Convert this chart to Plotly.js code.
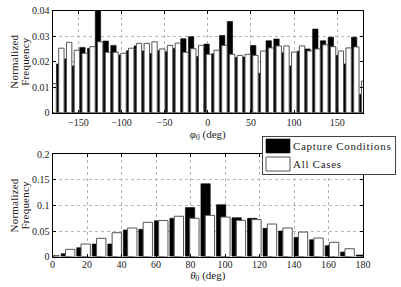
<!DOCTYPE html>
<html>
<head>
<meta charset="utf-8">
<script src="https://cdn.plot.ly/plotly-3.0.1.min.js"></script>
<style>
  html, body { margin: 0; padding: 0; background: #fff; }
  #chart { width: 401px; height: 287px; }
</style>
</head>
<body>
<div id="chart"></div>
<script>
// ---- Data ----
const phiCenters = [-180, -171, -162, -153, -144, -135, -126, -117, -108, -99,
  -90, -81, -72, -63, -54, -45, -36, -27, -18, -9,
  0, 9, 18, 27, 36, 45, 54, 63, 72, 81,
  90, 99, 108, 117, 126, 135, 144, 153, 162, 171, 180];
const phiCapture = [0.0070, 0.0191, 0.0211, 0.0183, 0.0256, 0.0252, 0.0405, 0.0281, 0.0264, 0.0226,
  0.0243, 0.0262, 0.0242, 0.0232, 0.0243, 0.0239, 0.0252, 0.0290, 0.0298, 0.0220,
  0.0269, 0.0231, 0.0303, 0.0358, 0.0216, 0.0218, 0.0264, 0.0155, 0.0282, 0.0289,
  0.0235, 0.0183, 0.0241, 0.0250, 0.0328, 0.0282, 0.0296, 0.0224, 0.0191, 0.0296, 0.0072];
const phiAll = [0.0114, 0.0253, 0.0276, 0.0245, 0.0233, 0.0259, 0.0278, 0.0237, 0.0237, 0.0233,
  0.0253, 0.0272, 0.0272, 0.0278, 0.0250, 0.0264, 0.0273, 0.0237, 0.0251, 0.0264,
  0.0229, 0.0245, 0.0264, 0.0229, 0.0225, 0.0229, 0.0225, 0.0242, 0.0254, 0.0262,
  0.0262, 0.0238, 0.0262, 0.0242, 0.0250, 0.0266, 0.0259, 0.0242, 0.0254, 0.0258, 0.0124];

const thetaCenters = [0, 9, 18, 27, 36, 45, 54, 63, 72, 81,
  90, 99, 108, 117, 126, 135, 144, 153, 162, 171, 180];
const thetaCapture = [0.0010, 0.0057, 0.0174, 0.0246, 0.0246, 0.0520, 0.0533, 0.0700, 0.0748, 0.0958,
  0.1424, 0.1014, 0.0760, 0.0748, 0.0552, 0.0500, 0.0377, 0.0330, 0.0213, 0.0090, 0.0030];
const thetaAll = [0.0020, 0.0142, 0.0246, 0.0357, 0.0467, 0.0559, 0.0670, 0.0705, 0.0789, 0.0750,
  0.0806, 0.0773, 0.0709, 0.0724, 0.0637, 0.0559, 0.0480, 0.0363, 0.0279, 0.0154, 0.0000];

const phiTicks = [-150, -100, -50, 0, 50, 100, 150];
const phiTickText = ['\u2212150', '\u2212100', '\u221250', '0', '50', '100', '150'];
const phiYTicks = [0, 0.01, 0.02, 0.03, 0.04];
const phiYTickText = ['0', '0.01', '0.02', '0.03', '0.04'];
const thetaTicks = [0, 20, 40, 60, 80, 100, 120, 140, 160, 180];
const thetaYTicks = [0, 0.05, 0.1, 0.15, 0.2];
const thetaYTickText = ['0', '0.05', '0.1', '0.15', '0.2'];

const seriesNames = ['Capture Conditions', 'All Cases'];

// ---- Styles ----
const FONT = 'Liberation Serif, Times New Roman, serif';
const TXT = '#222';
const blackBar = { color: '#000', line: { color: '#000', width: 0.6 } };
const whiteBar = { color: '#fff', line: { color: '#555', width: 1 } };

const traces = [
  { type: 'bar', x: phiCenters, y: phiCapture, name: seriesNames[0], xaxis: 'x', yaxis: 'y',
    width: 6.2, offset: -4.4, marker: blackBar, legendgroup: 'a' },
  { type: 'bar', x: phiCenters, y: phiAll, name: seriesNames[1], xaxis: 'x', yaxis: 'y',
    width: 6.2, offset: -1.8, marker: whiteBar, legendgroup: 'b' },
  { type: 'bar', x: thetaCenters, y: thetaCapture, name: seriesNames[0], xaxis: 'x2', yaxis: 'y2',
    width: 5.4, offset: -3.95, marker: blackBar, legendgroup: 'a', showlegend: false },
  { type: 'bar', x: thetaCenters, y: thetaAll, name: seriesNames[1], xaxis: 'x2', yaxis: 'y2',
    width: 5.4, offset: -1.45, marker: whiteBar, legendgroup: 'b', showlegend: false }
];

const W = 401, H = 287;
const xDom = [52.5 / W, 363 / W];
const axisCommon = {
  showline: true, linecolor: '#000', linewidth: 1, mirror: 'ticks',
  ticks: 'inside', ticklen: 3, tickcolor: '#000', tickwidth: 1,
  showgrid: true, gridcolor: '#b5b5b5', griddash: 'dot', gridwidth: 1,
  zeroline: false, automargin: false,
  tickfont: { family: FONT, size: 10, color: TXT }
};

const layout = {
  width: W, height: H,
  margin: { l: 0, r: 0, t: 0, b: 0 },
  paper_bgcolor: '#fff', plot_bgcolor: '#fff',
  barmode: 'overlay',
  font: { family: FONT, size: 10, color: TXT },
  showlegend: true,
  legend: {
    x: 262 / W, y: 1 - 136 / H, xanchor: 'left', yanchor: 'top',
    bgcolor: '#fff', bordercolor: '#444', borderwidth: 1,
    font: { family: FONT, size: 11, color: TXT },
    tracegroupgap: 0, itemwidth: 30
  },
  xaxis: Object.assign({}, axisCommon, {
    domain: xDom, anchor: 'y', range: [-180, 180],
    tickmode: 'array', tickvals: phiTicks, ticktext: phiTickText,
    title: { text: '<i>φ</i><sub>0</sub> (deg)', font: { family: FONT, size: 11, color: TXT }, standoff: 0 }
  }),
  yaxis: Object.assign({}, axisCommon, {
    domain: [1 - 112.7 / H, 1 - 10.7 / H], anchor: 'x', range: [0, 0.04],
    tickmode: 'array', tickvals: phiYTicks, ticktext: phiYTickText,
    title: { text: 'Normalized<br>Frequency', font: { family: FONT, size: 11, color: TXT }, standoff: 0 }
  }),
  xaxis2: Object.assign({}, axisCommon, {
    domain: xDom, anchor: 'y2', range: [0, 180],
    tickmode: 'array', tickvals: thetaTicks,
    title: { text: '<i>θ</i><sub>0</sub> (deg)', font: { family: FONT, size: 11, color: TXT }, standoff: 0 }
  }),
  yaxis2: Object.assign({}, axisCommon, {
    domain: [1 - 256.6 / H, 1 - 154.3 / H], anchor: 'x2', range: [0, 0.2],
    tickmode: 'array', tickvals: thetaYTicks, ticktext: thetaYTickText,
    title: { text: 'Normalized<br>Frequency', font: { family: FONT, size: 11, color: TXT }, standoff: 0 }
  })
};

function nudge(el, dx, dy) {
  el.setAttribute('transform', 'translate(' + dx + ',' + dy + ') ' + (el.getAttribute('transform') || ''));
}

Plotly.newPlot('chart', traces, layout, { displayModeBar: false, staticPlot: true }).then(function (gd) {
  try {
    // tighter line spacing for the two-line y titles, nudged right
    gd.querySelectorAll('.g-ytitle text, .g-y2title text').forEach(function (t) {
      const lines = t.querySelectorAll('tspan.line');
      for (let i = 1; i < lines.length; i++) lines[i].setAttribute('dy', '0.95em');
      nudge(t, 4, 0);
      t.style.letterSpacing = '0.2px';
    });
    // lower panel: tick labels and title a little closer to the axis
    gd.querySelectorAll('.xaxislayer-above g.x2tick text').forEach(function (t) { nudge(t, 0, -2); });
    gd.querySelectorAll('.g-x2title text').forEach(function (t) { nudge(t, 0, -3); });
    // larger legend swatches, text closer, like the reference legend
    const leg = gd.querySelector('g.legend');
    if (leg) {
      leg.querySelectorAll('g.legendpoints path').forEach(function (p) {
        p.setAttribute('d', 'M12,7H-12V-7H12Z');
        p.setAttribute('transform', 'translate(15,0)');
      });
      leg.querySelectorAll('text.legendtext').forEach(function (t) {
        t.setAttribute('x', 30);
        t.querySelectorAll('tspan.line').forEach(function (s) { s.setAttribute('x', 30); });
        t.style.letterSpacing = '0.7px';
      });
      const itemY = [10, 28];
      leg.querySelectorAll('g.traces').forEach(function (g, i) {
        g.setAttribute('transform', 'translate(1,' + (itemY[i] !== undefined ? itemY[i] : 28 + 18 * (i - 1)) + ')');
      });
      const bg = leg.querySelector('rect.bg');
      if (bg) { bg.setAttribute('width', 133); bg.setAttribute('height', 38); }
    }
  } catch (e) { /* keep the default rendering */ }
});
</script>
</body>
</html>
